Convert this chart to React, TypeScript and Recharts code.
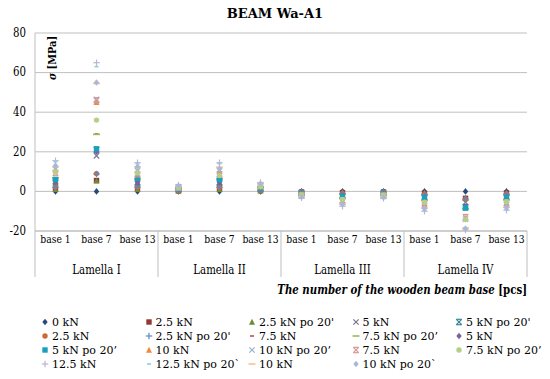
import { LineChart, Line, XAxis, YAxis, CartesianGrid, Legend } from 'recharts';

const FONT = 'DejaVu Serif';

const categories = [
  'base 1', 'base 7', 'base 13',
  'base 1', 'base 7', 'base 13',
  'base 1', 'base 7', 'base 13',
  'base 1', 'base 7', 'base 13',
];
const lamellas = ['Lamella I', 'Lamella II', 'Lamella III', 'Lamella IV'];
const yTicks = [-20, 0, 20, 40, 60, 80];

const seriesNames = [
  '0 kN', '2.5 kN', "2.5 kN po 20'", '5 kN', "5 kN po 20'",
  '2.5 kN', "2.5 kN po 20'", '7.5 kN', '7.5 kN po 20’', '5 kN',
  '5 kN po 20’', '10 kN', '10 kN po 20’', '7.5 kN', '7.5 kN po 20’',
  '12.5 kN', '12.5 kN po 20`', '10 kN', '10 kN po 20`',
];
const seriesColors = [
  '#254a7b', '#943634', '#6f8b36', '#7a7690', '#31859c',
  '#cc6a35', '#5a8ac6', '#c0504d', '#9bbb59', '#7b5fa0',
  '#1aa0bf', '#f08a3a', '#95b3d7', '#d99694', '#b5cf86',
  '#bdb4cf', '#93cddd', '#fac090', '#a6b9dc',
];
const seriesMarkers = [
  'diamond', 'square', 'triangle', 'x', 'star',
  'circle', 'plus', 'dash', 'longdash', 'diamond',
  'square', 'triangle', 'x', 'star', 'circle',
  'plus', 'dash', 'longdash', 'diamond',
];

// stress values [MPa], one per base
const s0 = [0, 0, 0, 0, 0, 0, 0, 0, 0, 0, 0, 0];
const s1 = [1.3, 5.5, 1.2, 0.3, 1.2, 0.4, -0.3, -0.6, -0.3, -0.9, -3.5, -0.8];
const s2 = [1.1, 5.3, 1.0, 0.3, 1.0, 0.4, -0.2, -0.5, -0.3, -0.8, -3.3, -0.8];
const s3 = [4.3, 18, 4.0, 0.9, 4.1, 1.3, -0.9, -2.1, -1.0, -2.8, -5.5, -2.7];
const s4 = [5.0, 21, 4.6, 1.0, 4.6, 1.4, -1.0, -2.4, -1.1, -3.2, -8.0, -3.0];
const s5 = [2.2, 9, 2.0, 0.5, 2.0, 0.6, -0.4, -1.0, -0.5, -1.4, -4.0, -1.3];
const s6 = [2.0, 8.8, 2.1, 0.4, 2.1, 0.6, -0.5, -1.1, -0.5, -1.5, -3.8, -1.4];
const s7 = [6.8, 29, 6.4, 1.4, 6.4, 2.0, -1.4, -3.3, -1.5, -4.4, -8.6, -4.2];
const s8 = [6.9, 28.8, 6.3, 1.4, 6.3, 2.0, -1.4, -3.3, -1.5, -4.4, -8.6, -4.2];
const s9 = [4.7, 20, 4.4, 1.0, 4.4, 1.4, -1.0, -2.3, -1.1, -3.0, -7.8, -2.9];
const s10 = [6.0, 21.5, 6.7, 1.2, 6.0, 1.5, -1.1, -2.5, -1.2, -3.3, -8.4, -3.1];
const s11 = [10.7, 45, 10.0, 2.2, 10.0, 3.1, -2.2, -5.2, -2.4, -6.9, -13.5, -6.6];
const s12 = [11.2, 46.5, 10.4, 2.3, 10.4, 3.2, -2.3, -5.4, -2.5, -7.2, -14, -6.8];
const s13 = [9.3, 46, 8.7, 1.9, 8.7, 2.7, -1.9, -4.5, -2.1, -6.0, -13, -5.7];
const s14 = [9.8, 36, 9.5, 2.0, 8.0, 2.5, -1.8, -4.1, -1.9, -5.5, -14.2, -5.2];
const s15 = [15.5, 65, 14.5, 3.2, 14.5, 4.5, -3.2, -7.5, -3.5, -10, -19.5, -9.5];
const s16 = [15.0, 63, 14.0, 3.1, 14.0, 4.4, -3.1, -7.3, -3.4, -9.7, -19, -9.2];
const s17 = [12.5, 54.5, 12.2, 2.7, 12.2, 3.8, -2.7, -6.3, -2.9, -8.4, -18.5, -8.0];
const s18 = [13.0, 55, 12.5, 2.8, 11.5, 3.9, -2.8, -6.5, -3.0, -8.6, -18.8, -8.2];

const seriesValues = [s0, s1, s2, s3, s4, s5, s6, s7, s8, s9, s10, s11, s12, s13, s14, s15, s16, s17, s18];

const data = categories.map((cat, i) => {
  const row: Record<string, string | number> = { cat, group: lamellas[Math.floor(i / 3)] };
  seriesValues.forEach((vals, k) => {
    row['s' + k] = vals[i];
  });
  return row;
});

function Marker({ shape, cx, cy, color }: { shape: string; cx: number; cy: number; color: string }) {
  const r = 2.7;
  switch (shape) {
    case 'diamond':
      return <polygon points={`${cx},${cy - r - 0.6} ${cx + r},${cy} ${cx},${cy + r + 0.6} ${cx - r},${cy}`} fill={color} />;
    case 'square':
      return <rect x={cx - r} y={cy - r} width={2 * r} height={2 * r} fill={color} />;
    case 'triangle':
      return <polygon points={`${cx},${cy - r - 0.5} ${cx + r + 0.3},${cy + r} ${cx - r - 0.3},${cy + r}`} fill={color} />;
    case 'x':
      return (
        <g stroke={color} strokeWidth={1.2}>
          <line x1={cx - r} y1={cy - r} x2={cx + r} y2={cy + r} />
          <line x1={cx - r} y1={cy + r} x2={cx + r} y2={cy - r} />
        </g>
      );
    case 'star':
      return (
        <g stroke={color} strokeWidth={1.2}>
          <line x1={cx - r} y1={cy - r} x2={cx + r} y2={cy + r} />
          <line x1={cx - r} y1={cy + r} x2={cx + r} y2={cy - r} />
          <line x1={cx - r} y1={cy - r} x2={cx + r} y2={cy - r} />
          <line x1={cx - r} y1={cy + r} x2={cx + r} y2={cy + r} />
        </g>
      );
    case 'circle':
      return <circle cx={cx} cy={cy} r={r} fill={color} />;
    case 'plus':
      return (
        <g stroke={color} strokeWidth={1.2}>
          <line x1={cx - r - 0.5} y1={cy} x2={cx + r + 0.5} y2={cy} />
          <line x1={cx} y1={cy - r - 0.5} x2={cx} y2={cy + r + 0.5} />
        </g>
      );
    case 'dash':
      return <rect x={cx - 2} y={cy - 0.8} width={4} height={1.6} fill={color} />;
    default:
      return <rect x={cx - 3.5} y={cy - 0.8} width={7} height={1.6} fill={color} />;
  }
}

// DejaVu Serif runs wider than the Times face of the original, so squeeze labels a little
function BaseTick(props: any) {
  const { x, y, payload } = props;
  return (
    <text
      transform={`translate(${x} ${y + 8}) scale(0.8 1)`}
      textAnchor="middle"
      dominantBaseline="central"
      fontFamily={FONT}
      fontSize={11.5}
      fill="#000"
    >
      {payload.value}
    </text>
  );
}

function ValueTick(props: any) {
  const { x, y, payload } = props;
  return (
    <text transform={`translate(${x} ${y}) scale(0.85 1)`} textAnchor="end" dominantBaseline="central" fontFamily={FONT} fontSize={12} fill="#000">
      {payload.value}
    </text>
  );
}

function GroupTick(props: any) {
  const { x, y, index } = props;
  const half = 20.5;
  const left = x - half;
  const right = x + half;
  return (
    <g>
      {index % 3 === 0 && <line x1={left} y1={y - 26} x2={left} y2={y + 20} stroke="#bfbfbf" />}
      {index === categories.length - 1 && <line x1={right} y1={y - 26} x2={right} y2={y + 20} stroke="#bfbfbf" />}
      {index % 3 === 1 && (
        <text transform={`translate(${x} ${y + 13}) scale(0.85 1)`} textAnchor="middle" dominantBaseline="central" fontFamily={FONT} fontSize={12} fill="#000">
          {lamellas[Math.floor(index / 3)]}
        </text>
      )}
    </g>
  );
}

function XTitle(props: any) {
  const vb = props.viewBox || {};
  return (
    <text transform={`translate(${vb.x + vb.width} ${vb.y + 33}) scale(0.85 1)`} textAnchor="end" dominantBaseline="central" fontFamily={FONT} fontSize={12} fontWeight="bold" fill="#000">
      <tspan fontStyle="italic">The number of the wooden beam base</tspan>
      <tspan> [pcs]</tspan>
    </text>
  );
}

function YTitle(props: any) {
  const vb = props.viewBox || {};
  const x = vb.x + vb.width + 17;
  const y = vb.y + 25;
  return (
    <text transform={`translate(${x} ${y}) rotate(-90) scale(0.85 1)`} textAnchor="middle" dominantBaseline="central" fontFamily={FONT} fontSize={11.5} fontWeight="bold" fill="#000">
      <tspan fontStyle="italic">σ</tspan>
      <tspan> [MPa]</tspan>
    </text>
  );
}

function LegendGrid() {
  return (
    <div style={{ display: 'grid', gridTemplateColumns: 'repeat(5, 103.5px)', gridAutoRows: '14px', fontFamily: FONT, fontSize: 11, color: '#000' }}>
      {seriesNames.map((name, k) => (
        <div key={k} style={{ display: 'flex', alignItems: 'center', whiteSpace: 'nowrap' }}>
          <svg width={10} height={10} style={{ marginRight: 2 }}>
            <Marker shape={seriesMarkers[k]} cx={5} cy={5} color={seriesColors[k]} />
          </svg>
          <span>{name}</span>
        </div>
      ))}
    </div>
  );
}

export default function App() {
  return (
    <div style={{ position: 'absolute', left: 0, top: 0, width: 550, height: 379, background: '#fff' }}>
      <div style={{ position: 'absolute', left: 0, top: 6, width: 550, textAlign: 'center', fontFamily: FONT, fontSize: 13, fontWeight: 'bold' }}>
        BEAM Wa-A1
      </div>
      <LineChart width={550} height={379} data={data} margin={{ top: 33, right: 23, bottom: 8, left: 0 }}>
        <CartesianGrid vertical={false} stroke="#bfbfbf" />
        <XAxis
          dataKey="cat"
          padding={{ left: 20.5, right: 20.5 }}
          height={26}
          axisLine={{ stroke: '#bfbfbf' }}
          tickLine={false}
          tickSize={0}
          tickMargin={0}
          interval={0}
          tick={<BaseTick />}
        />
        <XAxis
          xAxisId="lam"
          dataKey="cat"
          padding={{ left: 20.5, right: 20.5 }}
          height={58}
          axisLine={false}
          tickLine={false}
          tickSize={0}
          tickMargin={0}
          interval={0}
          tick={<GroupTick />}
          label={<XTitle />}
        />
        <YAxis
          width={35}
          domain={[-20, 80]}
          ticks={yTicks}
          axisLine={{ stroke: '#bfbfbf' }}
          tickLine={false}
          tickSize={0}
          tickMargin={9}
          tick={<ValueTick />}
          label={<YTitle />}
        />
        <Legend verticalAlign="bottom" align="left" wrapperStyle={{ left: 40, width: 520 }} content={() => <LegendGrid />} />
        {seriesValues.map((_, k) => (
          <Line
            key={k}
            dataKey={'s' + k}
            name={seriesNames[k]}
            stroke="none"
            isAnimationActive={false}
            activeDot={false}
            dot={(p: any) => (
              <Marker key={p.index} shape={seriesMarkers[k]} cx={p.cx} cy={p.cy} color={seriesColors[k]} />
            )}
          />
        ))}
      </LineChart>
    </div>
  );
}
